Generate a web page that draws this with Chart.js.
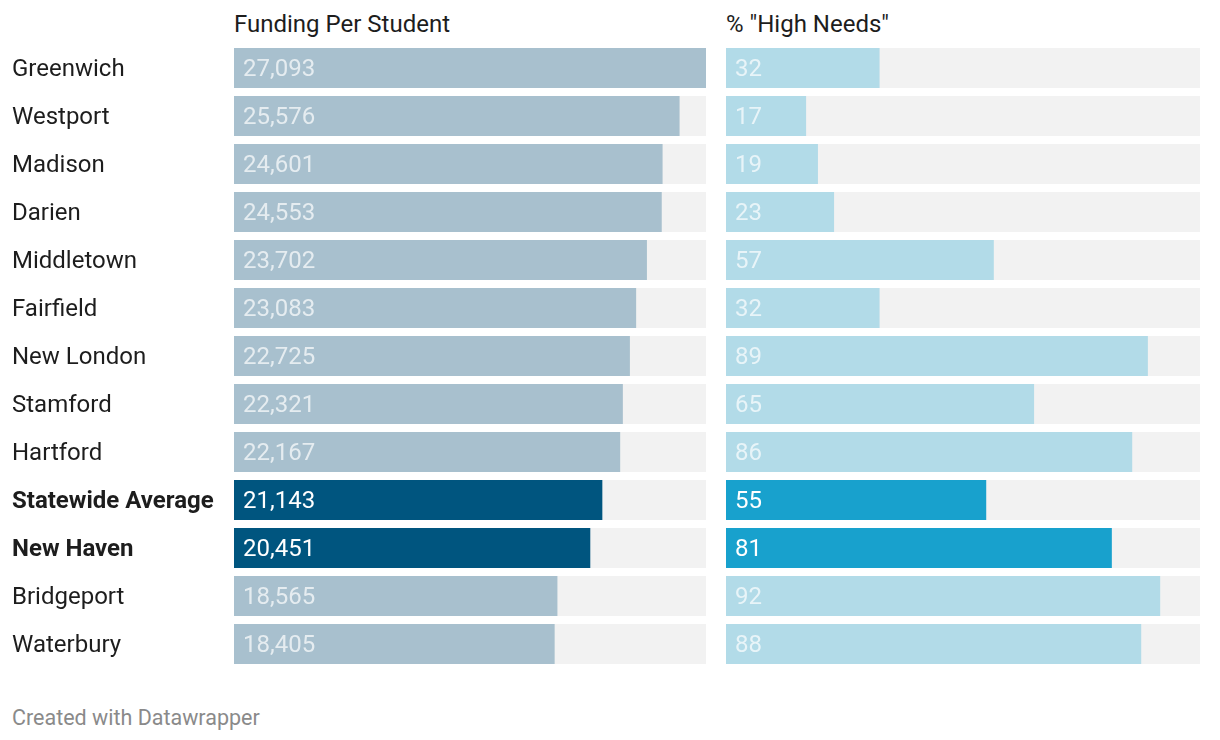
<!DOCTYPE html>
<html>
<head>
<meta charset="utf-8">
<script src="https://cdn.jsdelivr.net/npm/chart.js@4/dist/chart.umd.min.js"></script>
<style>
  body { margin: 0; background: #fff; font-family: Roboto, sans-serif; }
  #wrap { position: relative; width: 1220px; height: 740px; }
  .head { position: absolute; top: 10px; font-size: 24px; line-height: 28px; color: #1d1d1d; white-space: nowrap; }
  .box { position: absolute; top: 44px; height: 624px; }
  #foot { position: absolute; left: 12px; top: 705px; font-size: 21.5px; line-height: 26px; color: #8a8a8a; }
</style>
</head>
<body>
<div id="wrap">
  <div class="head" style="left:234px">Funding Per Student</div>
  <div class="head" style="left:726px">% "High Needs"</div>
  <div class="box" style="left:0; width:706px"><canvas id="fundingChart"></canvas></div>
  <div class="box" style="left:726px; width:474px"><canvas id="needsChart"></canvas></div>
  <div id="foot">Created with Datawrapper</div>
</div>
<script>
var towns = ["Greenwich", "Westport", "Madison", "Darien", "Middletown", "Fairfield", "New London",
  "Stamford", "Hartford", "Statewide Average", "New Haven", "Bridgeport", "Waterbury"];
var funding = [27093, 25576, 24601, 24553, 23702, 23083, 22725, 22321, 22167, 21143, 20451, 18565, 18405];
var highNeeds = [32.4, 16.9, 19.4, 22.8, 56.5, 32.4, 89.0, 65.0, 85.7, 54.9, 81.4, 91.6, 87.6];
var highlighted = ["Statewide Average", "New Haven"];

var fundingMax = Math.max.apply(null, funding);
var needsMax = 100;

function isHi(i) { return highlighted.indexOf(towns[i]) >= 0; }

// draws the numbers inside the bars
var valueLabels = {
  id: 'valueLabels',
  afterDatasetsDraw: function(chart, args, opts) {
    var ctx = chart.ctx;
    var meta = chart.getDatasetMeta(0);
    ctx.save();
    ctx.font = '24px Roboto, sans-serif';
    ctx.textBaseline = 'middle';
    ctx.textAlign = 'left';
    meta.data.forEach(function(bar, i) {
      var v = chart.data.datasets[0].data[i];
      ctx.fillStyle = isHi(i) ? '#ffffff' : 'rgba(255,255,255,0.7)';
      ctx.fillText(opts.format(v), bar.base + 9, bar.y + 2);
    });
    ctx.restore();
  }
};

function makeChart(id, values, max, colNormal, colHi, showLabels, format) {
  var bg = values.map(function() { return max; });
  return new Chart(document.getElementById(id), {
    type: 'bar',
    data: {
      labels: towns,
      datasets: [{
        data: values,
        order: 0,
        backgroundColor: values.map(function(v, i) { return isHi(i) ? colHi : colNormal; })
      }, {
        data: bg,
        order: 1,
        backgroundColor: '#f2f2f2'
      }]
    },
    options: {
      indexAxis: 'y',
      responsive: true,
      maintainAspectRatio: false,
      animation: false,
      events: [],
      layout: { padding: { left: showLabels ? 12 : 0, right: 0, top: 0, bottom: 0 } },
      datasets: { bar: { grouped: false, barPercentage: 40 / 48, categoryPercentage: 1, borderWidth: 0 } },
      scales: {
        x: { display: false, min: 0, max: max },
        y: {
          display: showLabels,
          border: { display: false },
          grid: { display: false, drawTicks: false },
          afterFit: function(scale) {
            scale.width = showLabels ? 222 : 0;
            scale.paddingTop = 0;
            scale.paddingBottom = 0;
          },
          ticks: {
            crossAlign: 'far',
            padding: 0,
            labelOffset: 2,
            color: '#1d1d1d',
            font: function(c) {
              return { family: 'Roboto, sans-serif', size: 24, weight: isHi(c.index) ? 'bold' : 'normal' };
            }
          }
        }
      },
      plugins: {
        legend: { display: false },
        tooltip: { enabled: false },
        valueLabels: { format: format }
      }
    },
    plugins: [valueLabels]
  });
}

makeChart('fundingChart', funding, fundingMax, '#a8c0ce', '#00557f', true,
  function(v) { return v.toLocaleString('en-US'); });
makeChart('needsChart', highNeeds, needsMax, '#b2dbe8', '#18a1cd', false,
  function(v) { return String(Math.round(v)); });
</script>
</body>
</html>
